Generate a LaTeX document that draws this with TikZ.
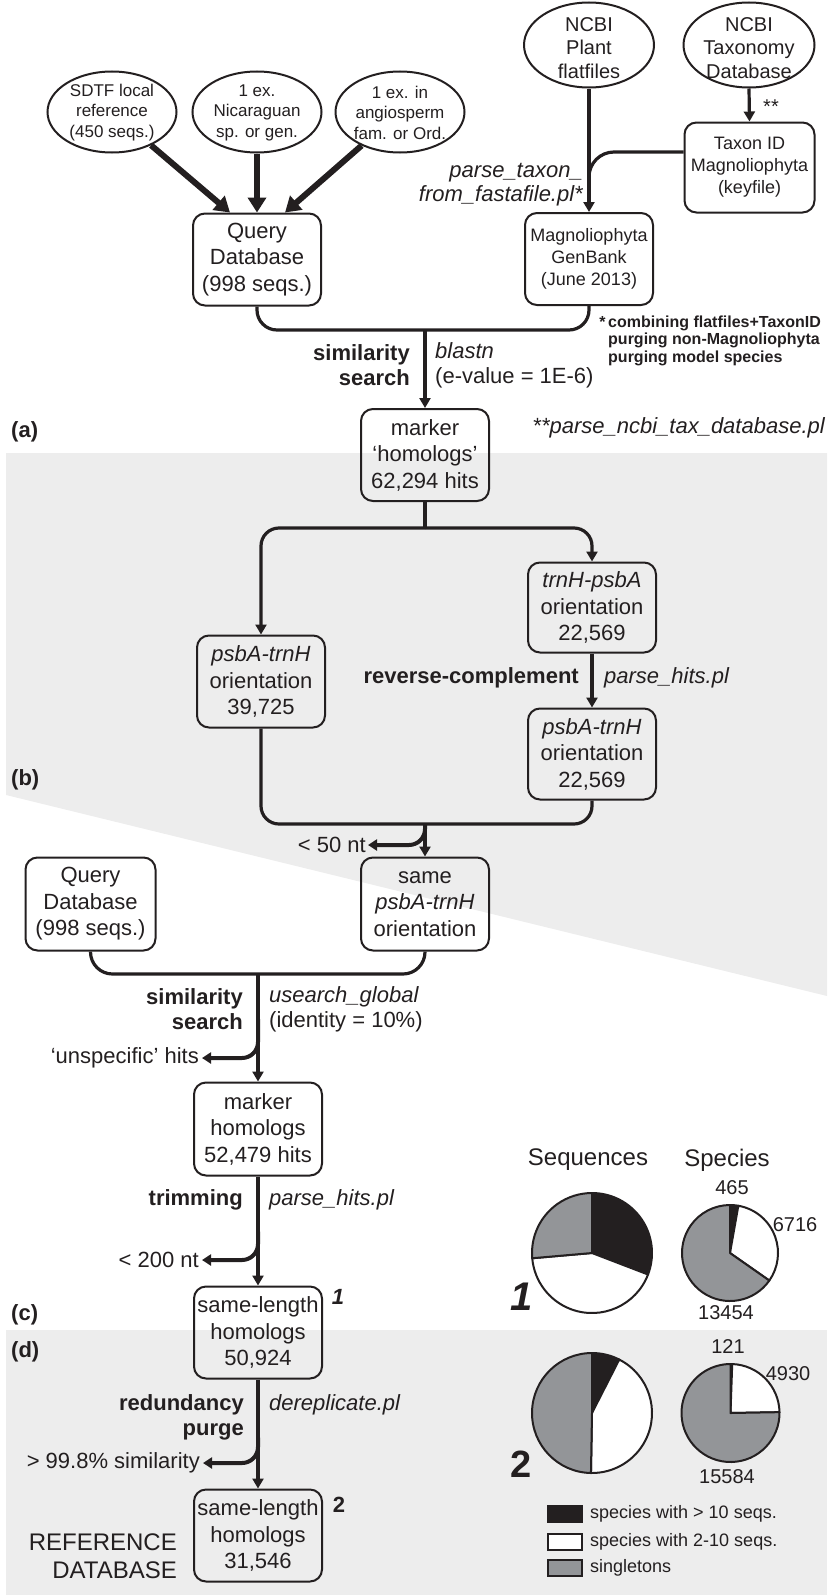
\documentclass[tikz,border=0pt]{standalone}
\usepackage{fontspec}
\setmainfont{Liberation Sans}
\usetikzlibrary{arrows.meta,shapes.geometric,calc}
\definecolor{ink}{HTML}{231F20}
\definecolor{piegray}{HTML}{939598}
\definecolor{bggray}{HTML}{EDEDED}
\newcommand{\fsz}[2]{\fontsize{#1}{#2}\selectfont}
\begin{document}
\begin{tikzpicture}[x=1pt,y=-1pt,
  box/.style={draw=ink, line width=2pt, rounded corners=12pt, minimum width=128pt, minimum height=92pt, inner sep=1pt, align=center, text=ink, font=\fsz{22}{26.5}},
  sbox/.style={box, font=\fsz{18}{22}},
  ell/.style={ellipse, draw=ink, line width=2pt, minimum width=129pt, minimum height=81pt, inner sep=0pt},
  etxt/.style={align=center, text=ink, inner sep=0pt, font=\fsz{17}{20.5}},
  btxt/.style={align=center, text=ink, inner sep=0pt, font=\fsz{20}{23.5}},
  rb/.style={text=ink, inner sep=0pt, align=right, anchor=east, font=\fsz{22}{25}\bfseries},
  ri/.style={text=ink, inner sep=0pt, align=right, anchor=east, font=\fsz{22}{24}\itshape},
  rn/.style={text=ink, inner sep=0pt, align=right, anchor=east, font=\fsz{22}{25}},
  ln/.style={text=ink, inner sep=0pt, align=left, anchor=west, font=\fsz{22}{25}},
  pl/.style={text=ink, inner sep=0pt, anchor=west, font=\fsz{22}{25}\bfseries},
  foot/.style={text=ink, inner sep=0pt, align=left, anchor=west, font=\fsz{16}{17.5}\bfseries},
  num/.style={text=ink, inner sep=0pt, font=\fsz{20}{22}},
  head/.style={text=ink, inner sep=0pt, font=\fsz{24}{26}},
  lgbox/.style={draw=ink, line width=2pt, minimum width=34pt, minimum height=16pt, inner sep=0pt},
  lgt/.style={text=ink, inner sep=0pt, anchor=west, font=\fsz{18}{20}},
  conn/.style={draw=ink, line width=3.2pt},
  arr/.style={conn, -{Triangle[length=10pt,width=11pt]}},
  fat/.style={draw=ink, line width=6pt, -{Triangle[length=15pt,width=18pt]}},
  branch/.style={draw=ink, line width=4pt, rounded corners=16pt, -{Triangle[length=9pt,width=11pt]}},
  wedge/.style={draw=ink, line width=2pt, line join=round},
]
\useasboundingbox (0,0) rectangle (827,1595);

% shaded panels
\fill[bggray] (6,453) -- (827,453) -- (827,996) -- (6,795) -- cycle;
\fill[bggray] (6,1330) rectangle (827,1595);

% ---- top: sources
\node[ell] (e1) at (112,112) {};
\node[etxt] (e1t) at (112,112.5) {SDTF local\\reference\\(450 seqs.)};
\node[ell] (e2) at (257,112) {};
\node[etxt] (e2t) at (257,112.5) {1 ex.\\Nicaraguan\\sp. or gen.};
\node[ell] (e3) at (400,112) {};
\node[etxt] (e3t) at (400,112.5) {1 ex. in\\angiosperm\\fam. or Ord.};
\node[ell, minimum width=130pt, minimum height=85pt] (e4) at (589,45) {};
\node[btxt] (e4t) at (589,48) {NCBI\\Plant\\flatfiles};
\node[ell, minimum width=131pt, minimum height=85pt] (e5) at (749,45) {};
\node[btxt] (e5t) at (749,48) {NCBI\\Taxonomy\\Database};

\node[box] (qdb1) at (257,259.5) {Query\\Database\\(998 seqs.)};
\node[sbox] (mgb) at (589,259) {Magnoliophyta\\GenBank\\(June 2013)};
\node[sbox, minimum width=130pt, minimum height=90pt] (taxid) at (749.5,167.5) {Taxon ID\\Magnoliophyta\\(keyfile)};

\draw[fat] (e1) -- ($(qdb1.north)+(-27,0)$);
\draw[fat] (e2) -- (qdb1.north);
\draw[fat] (e3) -- ($(qdb1.north)+(28,0)$);

\draw[arr] (e5.south) -- (taxid.north);
\node[num] (ast2) at (771,107) {**};
\draw[arr] (e4.south) -- (mgb.north);
\draw[conn, rounded corners=25pt] ($(taxid.west)+(0,-15.5)$) -| ($(mgb.north)+(0,-25)$);
\node[ri] (ptx) at (583,185) {parse\_taxon\_\\from\_fastafile.pl*};

% ---- (a)
\node[box] (mh1) at (425,455) {marker\\‘homologs’\\62,294 hits};
\coordinate (bus1) at (425,330);
\draw[conn, rounded corners=20pt] (qdb1.south) |- (bus1) -| (mgb.south);
\draw[arr] (bus1) -- (mh1.north);
\node[rb] (ss1) at (410,365) {similarity\\search};
\node[ln] (bl) at (435,365) {\textit{blastn}\\(e-value = 1E-6)};
\node[foot] (fn) at (608,340.5) {\llap{*\,}combining flatfiles+TaxonID\\purging non-Magnoliophyta\\purging model species};
\node[pl] (la) at (11,432) {(a)};
\node[ri] (pncbi) at (825,428) {**parse\_ncbi\_tax\_database.pl};

% ---- (b)
\node[box, minimum height=90pt] (trnH) at (592,607.5) {\textit{trnH-psbA}\\orientation\\22,569};
\node[box] (psbAL) at (261,681.5) {\textit{psbA-trnH}\\orientation\\39,725};
\node[box, minimum height=91pt] (psbAR) at (592,754) {\textit{psbA-trnH}\\orientation\\22,569};
\coordinate (split) at (425,528);
\draw[conn] (mh1.south) -- (split);
\draw[arr, rounded corners=18pt] (split) -| (psbAL.north);
\draw[arr, rounded corners=18pt] (split) -| (trnH.north);
\draw[arr] (trnH.south) -- (psbAR.north);
\node[rb] (rc) at (579,678) {reverse-complement};
\node[ln] (ph1) at (604,678) {\textit{parse\_hits.pl}};
\node[pl] (lb) at (11,780) {(b)};

\node[box, minimum height=93pt] (same) at (425,904) {same\\\textit{psbA-trnH}\\orientation};
\coordinate (merge) at (425,824);
\draw[conn, rounded corners=18pt] (psbAL.south) |- (merge) -| (psbAR.south);
\draw[arr] (merge) -- (same.north);
\node[rn] (lt50) at (366,845) {< 50 nt};
\draw[branch] ($(merge)+(0,1)$) |- ($(lt50.east)+(2,0)$);

% ---- (c)
\node[box, minimum width=130pt, minimum height=93pt] (qdb2) at (90.5,904) {Query\\Database\\(998 seqs.)};
\node[box, minimum height=93pt] (mh2) at (258,1129) {marker\\homologs\\52,479 hits};
\coordinate (bus2) at (258,974);
\draw[conn, rounded corners=22pt] (qdb2.south) |- (bus2) -| (same.south);
\draw[arr] (bus2) -- (mh2.north);
\node[rb] (ss2) at (243,1009.5) {similarity\\search};
\node[ln] (us) at (269,1009.5) {\textit{usearch\_global}\\(identity = 10\%)};
\node[rn] (unsp) at (199,1058) {‘unspecific’ hits};
\draw[branch] ($(bus2)+(0,45)$) |- ($(unsp.east)+(3,0)$);

\node[box] (sl1) at (258,1332.5) {same-length\\homologs\\50,924};
\draw[arr] (mh2.south) -- (sl1.north);
\node[rb] (trim) at (243,1200) {trimming};
\node[ln] (ph2) at (269,1200) {\textit{parse\_hits.pl}};
\node[rn] (lt200) at (199,1260) {< 200 nt};
\draw[branch] ($(mh2.south)+(0,55)$) |- ($(lt200.east)+(3,0)$);
\node[text=ink, inner sep=0pt, font=\fsz{22}{24}\bfseries\itshape] (n1) at (338,1297) {1};
\node[pl] (lc) at (11,1315) {(c)};

% ---- (d)
\node[pl] (ld) at (11,1352) {(d)};
\node[box] (sl2) at (258,1535.5) {same-length\\homologs\\31,546};
\draw[arr] (sl1.south) -- (sl2.north);
\node[rb] (rp) at (244,1417.5) {redundancy\\purge};
\node[ln] (dr) at (269,1405) {\textit{dereplicate.pl}};
\node[rn] (gt) at (200,1463) {> 99.8\% similarity};
\draw[branch] ($(sl1.south)+(0,58)$) |- ($(gt.east)+(3,0)$);
\node[text=ink, inner sep=0pt, font=\fsz{22}{24}\bfseries] (n2) at (339,1505) {2};
\node[text=ink, inner sep=0pt, align=right, anchor=east, font=\fsz{24}{28}] (refdb) at (177,1556) {REFERENCE\\DATABASE};

% ---- pie charts
\node[head] (hseq) at (588,1160) {Sequences};
\node[head] (hspe) at (727,1160) {Species};

\begin{scope}[shift={(592,1253)}]
  \filldraw[wedge, fill=ink] (0,0) -- (-90:60) arc[start angle=-90, end angle=21, radius=60] -- cycle;
  \filldraw[wedge, fill=white] (0,0) -- (21:60) arc[start angle=21, end angle=175, radius=60] -- cycle;
  \filldraw[wedge, fill=piegray] (0,0) -- (175:60) arc[start angle=175, end angle=270, radius=60] -- cycle;
\end{scope}
\begin{scope}[shift={(730,1253)}]
  \filldraw[wedge, fill=ink] (0,0) -- (-90:48) arc[start angle=-90, end angle=-80, radius=48] -- cycle;
  \filldraw[wedge, fill=white] (0,0) -- (-80:48) arc[start angle=-80, end angle=35, radius=48] -- cycle;
  \filldraw[wedge, fill=piegray] (0,0) -- (35:48) arc[start angle=35, end angle=270, radius=48] -- cycle;
\end{scope}
\node[num] (p465) at (732,1188) {465};
\node[num] (p6716) at (795,1225) {6716};
\node[num] (p13454) at (726,1313) {13454};
\node[text=ink, inner sep=0pt, font=\fsz{40}{40}\bfseries\itshape] (big1) at (522,1297) {1};

\begin{scope}[shift={(592,1413)}]
  \filldraw[wedge, fill=ink] (0,0) -- (-90:60) arc[start angle=-90, end angle=-63, radius=60] -- cycle;
  \filldraw[wedge, fill=white] (0,0) -- (-63:60) arc[start angle=-63, end angle=91, radius=60] -- cycle;
  \filldraw[wedge, fill=piegray] (0,0) -- (91:60) arc[start angle=91, end angle=270, radius=60] -- cycle;
\end{scope}
\begin{scope}[shift={(730.5,1413)}]
  \filldraw[wedge, fill=ink] (0,0) -- (-90:49) arc[start angle=-90, end angle=-88, radius=49] -- cycle;
  \filldraw[wedge, fill=white] (0,0) -- (-88:49) arc[start angle=-88, end angle=-1, radius=49] -- cycle;
  \filldraw[wedge, fill=piegray] (0,0) -- (-1:49) arc[start angle=-1, end angle=270, radius=49] -- cycle;
\end{scope}
\node[num] (p121) at (728,1347) {121};
\node[num] (p4930) at (788,1374) {4930};
\node[num] (p15584) at (727,1477) {15584};
\node[text=ink, inner sep=0pt, font=\fsz{38}{38}\bfseries] (big2) at (521.5,1464) {2};

% legend
\node[lgbox, fill=ink] (lg1) at (565,1514) {};
\node[lgbox, fill=white] (lg2) at (565,1542) {};
\node[lgbox, fill=piegray] (lg3) at (565,1568) {};
\node[lgt] (lt1) at (590,1514) {species with > 10 seqs.};
\node[lgt] (lt2) at (590,1542) {species with 2-10 seqs.};
\node[lgt] (lt3) at (590,1568) {singletons};
\end{tikzpicture}
\end{document}
